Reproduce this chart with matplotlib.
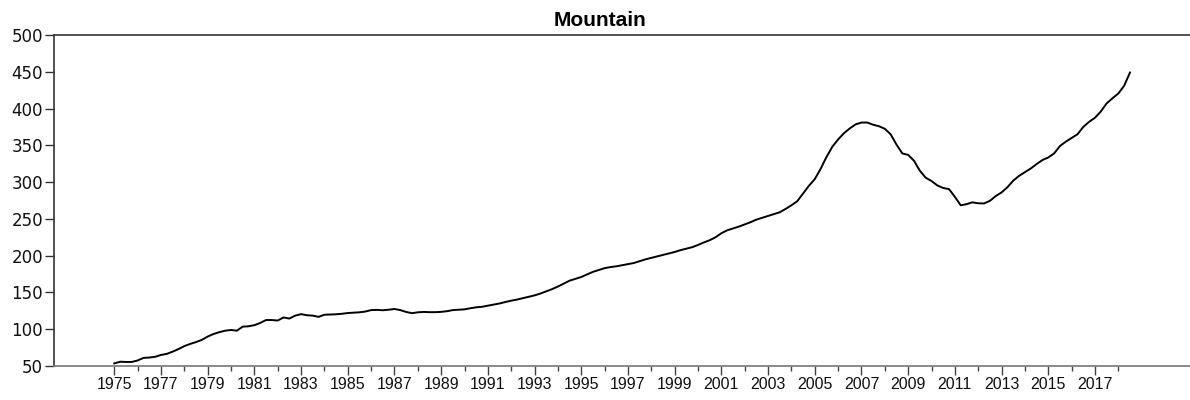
import numpy as np
import matplotlib
matplotlib.use("Agg")
import matplotlib.pyplot as plt
from matplotlib.ticker import FixedLocator

plt.rcParams['font.family'] = ['Liberation Sans', 'DejaVu Sans']

# Quarterly house price index, Mountain division, 1975Q1 onward
start_year = 1975
values = [
    53.5, 55.8, 55.5, 55.5,   # 1975
    57.5, 61.0, 61.5, 62.5,   # 1976
    65.0, 66.5, 69.5, 73.0,   # 1977
    77.0, 80.0, 82.5, 85.5,   # 1978
    90.0, 93.5, 96.0, 98.0,   # 1979
    99.0, 98.0, 103.5, 104.0,  # 1980
    105.5, 108.5, 112.5, 112.5,  # 1981
    111.8, 116.0, 114.5, 118.5,  # 1982
    120.5, 119.0, 118.5, 116.8,  # 1983
    119.7, 120.0, 120.3, 121.0,  # 1984
    122.0, 122.5, 123.0, 124.0,  # 1985
    126.0, 126.3, 125.8, 126.5,  # 1986
    127.5, 126.0, 123.5, 121.8,  # 1987
    123.0, 123.5, 123.2, 123.2,  # 1988
    123.6, 124.5, 126.0, 126.5,  # 1989
    127.0, 128.5, 129.8, 130.5,  # 1990
    132.0, 133.5, 135.0, 137.0,  # 1991
    138.8, 140.3, 142.2, 144.0,  # 1992
    146.0, 148.5, 151.5, 154.5,  # 1993
    158.0, 162.0, 166.0, 168.5,  # 1994
    171.0, 174.5, 178.0, 180.5,  # 1995
    183.0, 184.5, 185.5, 187.0,  # 1996
    188.5, 190.0, 192.5, 195.0,  # 1997
    197.0, 199.0, 201.0, 203.0,  # 1998
    205.0, 207.5, 209.5, 211.5,  # 1999
    214.5, 218.0, 221.0, 225.0,  # 2000
    230.5, 234.5, 237.0, 239.5,  # 2001
    242.5, 245.5, 249.0, 251.5,  # 2002
    254.0, 256.5, 259.0, 263.5,  # 2003
    268.5, 274.0, 284.5, 295.0,  # 2004
    304.0, 318.0, 334.0, 348.0,  # 2005
    358.0, 366.5, 373.0, 378.5,  # 2006
    381.0, 381.0, 378.0, 376.0,  # 2007
    372.5, 365.0, 351.0, 339.0,  # 2008
    337.0, 329.0, 315.5, 306.0,  # 2009
    301.5, 295.5, 292.0, 290.5,  # 2010
    280.0, 268.5, 270.0, 272.5,  # 2011
    271.2, 271.0, 274.5, 281.0,  # 2012
    286.0, 293.0, 302.0, 308.5,  # 2013
    313.5, 318.5, 324.5, 330.0,  # 2014
    333.5, 339.0, 349.0, 355.0,  # 2015
    360.0, 365.0, 375.0, 382.0,  # 2016
    387.5, 396.0, 407.0, 414.0,  # 2017
    420.5, 431.0, 449.0,         # 2018
]
year_labels = list(range(1975, 2018, 2))
y_ticks = [50, 100, 150, 200, 250, 300, 350, 400, 450, 500]

t = start_year + np.arange(len(values)) / 4.0

fig = plt.figure(figsize=(11.9, 4.0), dpi=100)
ax = fig.add_axes([54 / 1190, 1 - 366 / 400, 1 - 54 / 1190, (366 - 35) / 400])

ax.plot(t, values, color='black', linewidth=1.4, solid_joinstyle='round')

ax.set_xlim(1972.42, 2021.07)
ax.set_ylim(50, 500)

ax.xaxis.set_major_locator(FixedLocator(year_labels))
ax.set_xticklabels([str(y) for y in year_labels])
ax.xaxis.set_minor_locator(FixedLocator(list(range(1976, 2019, 2))))
ax.set_yticks(y_ticks)
ax.set_yticklabels([str(v) for v in y_ticks], family=['DejaVu Sans'])

ax.tick_params(axis='x', which='major', length=6.3, width=1, color='#444444',
               labelsize=11.5, pad=1.5, direction='out', labelcolor='#111111')
ax.tick_params(axis='x', which='minor', length=3.6, width=1, color='#444444',
               direction='out')
ax.tick_params(axis='y', which='major', length=6.5, width=1, color='#333333',
               labelsize=12, pad=1.5, direction='out', labelcolor='#111111')

ax.spines['right'].set_visible(False)
ax.spines['top'].set_color('#333333')
ax.spines['left'].set_color('#333333')
ax.spines['bottom'].set_color('#777777')
for s in ('top', 'left', 'bottom'):
    ax.spines[s].set_linewidth(1.2)

fig.text(600 / 1190, 1 - 26 / 400, 'Mountain', fontsize=15, fontweight='bold',
         ha='center', va='baseline')

fig.savefig('out.png', dpi=100)
